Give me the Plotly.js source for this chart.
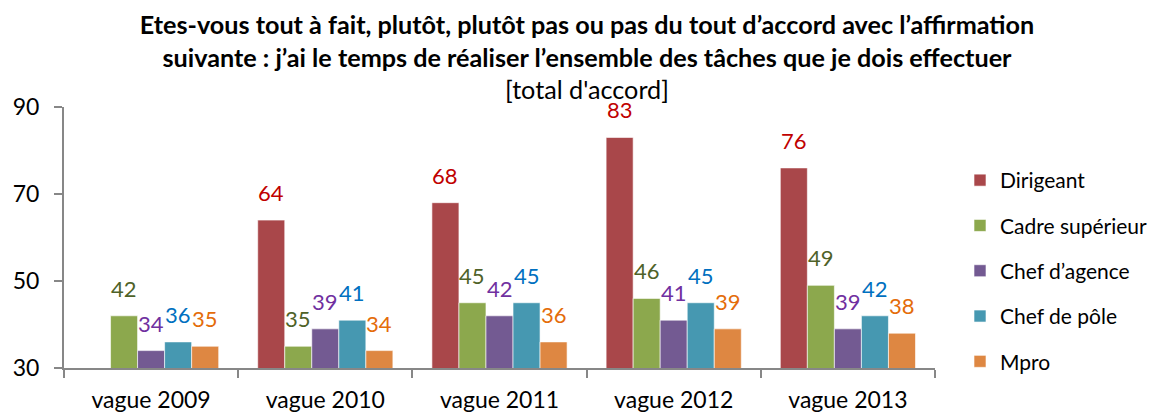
<!DOCTYPE html>
<html>
<head>
<meta charset="utf-8">
<script src="https://cdn.plot.ly/plotly-3.0.1.min.js"></script>
<style>html,body{margin:0;padding:0;background:#fff;}#chart{width:1154px;height:414px;}</style>
</head>
<body>
<div id="chart"></div>
<script>
const categories = ['vague 2009', 'vague 2010', 'vague 2011', 'vague 2012', 'vague 2013'];
const seriesNames = ['Dirigeant', 'Cadre supérieur', 'Chef d’agence', 'Chef de pôle', 'Mpro'];
const dirigeant = [null, 64, 68, 83, 76];
const cadreSuperieur = [42, 35, 45, 46, 49];
const chefAgence = [34, 39, 42, 41, 39];
const chefPole = [36, 41, 45, 45, 42];
const mpro = [35, 34, 36, 39, 38];
const yTicks = [30, 50, 70, 90];

const seriesValues = [dirigeant, cadreSuperieur, chefAgence, chefPole, mpro];
const barColors = ['#A9474A', '#8CA84D', '#735A92', '#4698B1', '#DE8742'];
const labelColors = ['#C00000', '#4F6228', '#7030A0', '#0070C0', '#E46C0A'];

const FONT = 'Lato, "Open Sans", sans-serif';
const margin = {l: 64, r: 219, t: 107, b: 46, autoexpand: false};
const plotW = 1154 - margin.l - margin.r;
const bargap = 0.224;
const barPx = plotW / categories.length * (1 - bargap) / seriesNames.length;

const traces = seriesNames.map((name, i) => ({
  type: 'bar',
  name: name,
  x: categories,
  y: seriesValues[i],
  legendgroup: 'g' + i,
  marker: {color: barColors[i], line: {color: 'rgba(255,255,255,0.6)', width: 1}},
  hoverinfo: 'x+y+name'
}));

const annotations = [];
seriesValues.forEach((vals, i) => {
  vals.forEach((v, j) => {
    if (v === null) return;
    annotations.push({
      x: categories[j], y: v, xref: 'x', yref: 'y',
      text: String(v), showarrow: false,
      xanchor: 'center', yanchor: 'bottom',
      xshift: (i - 2) * barPx, yshift: 12,
      font: {family: FONT, size: 22, color: labelColors[i]}
    });
  });
});

const layout = {
  width: 1154, height: 414,
  margin: margin,
  paper_bgcolor: '#fff', plot_bgcolor: '#fff',
  barmode: 'group', bargap: bargap, bargroupgap: 0,
  font: {family: FONT, size: 22, color: '#000'},
  title: {
    text: '<b>Etes-vous tout à fait, plutôt, plutôt pas ou pas du tout d’accord avec l’affirmation</b><br><b>suivante : j’ai le temps de réaliser l’ensemble des tâches que je dois effectuer</b><br>[total d\'accord]',
    font: {family: FONT, size: 25.2, color: '#000'},
    x: 587 / 1154, xanchor: 'center', xref: 'container',
    y: 0.918, yanchor: 'top', yref: 'container'
  },
  xaxis: {
    type: 'category', automargin: false,
    showline: true, linecolor: '#878787', linewidth: 2,
    ticks: 'outside', tickson: 'boundaries', ticklen: 8, tickcolor: '#878787', tickwidth: 2,
    showgrid: false, zeroline: false,
    tickfont: {family: FONT, size: 23, color: '#000'},
    ticklabelstandoff: 10
  },
  yaxis: {
    range: [30, 90], tickvals: yTicks, automargin: false,
    showline: true, linecolor: '#878787', linewidth: 2,
    ticks: 'outside', ticklen: 8, tickcolor: '#878787', tickwidth: 2,
    showgrid: false, zeroline: false,
    tickfont: {family: FONT, size: 23, color: '#000'},
    ticklabelstandoff: 10
  },
  legend: {
    xref: 'container', x: 960 / 1154, xanchor: 'left',
    yref: 'paper', y: 0.797, yanchor: 'top',
    font: {family: FONT, size: 21, color: '#000'},
    tracegroupgap: 15,
    bgcolor: 'rgba(0,0,0,0)'
  },
  annotations: annotations,
  showlegend: true
};

Plotly.newPlot('chart', traces, layout, {displayModeBar: false, staticPlot: true});
</script>
</body>
</html>
